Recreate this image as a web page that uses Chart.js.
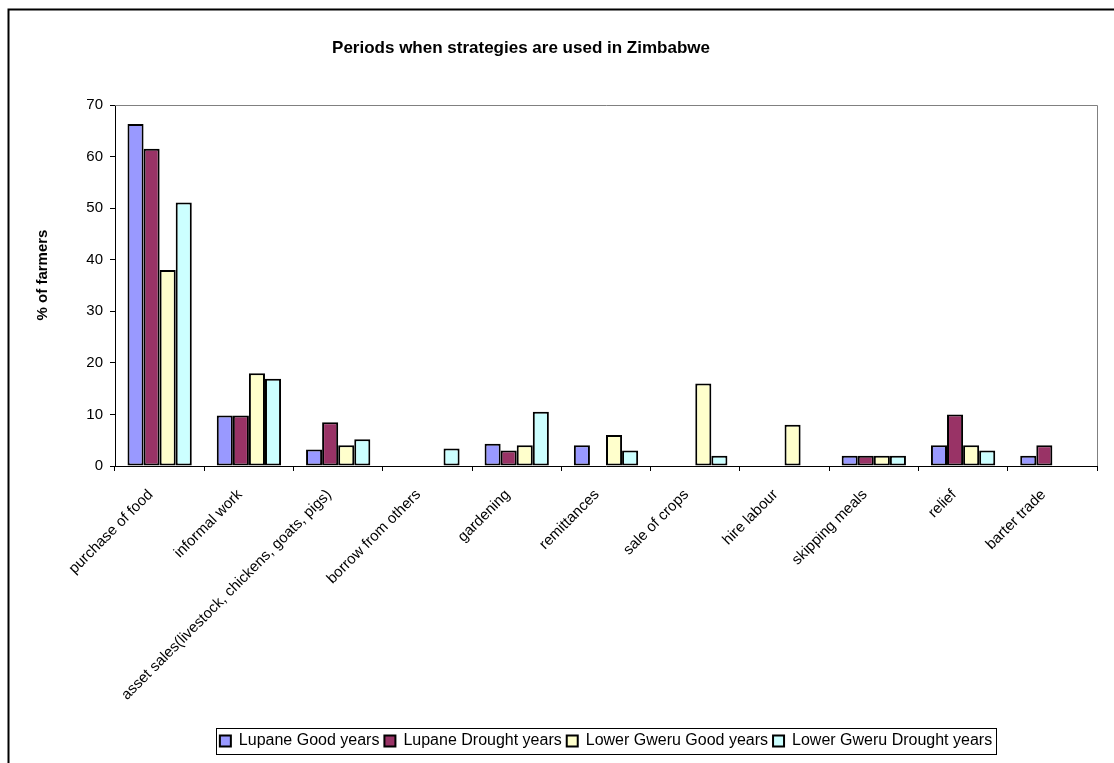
<!DOCTYPE html>
<html>
<head>
<meta charset="utf-8">
<title>Periods when strategies are used in Zimbabwe</title>
<script src="https://cdn.jsdelivr.net/npm/chart.js@4.4.1/dist/chart.umd.min.js"></script>
<style>
  html,body{margin:0;padding:0;background:#fff}
  #wrap{position:relative;width:1114px;height:763px}
</style>
</head>
<body>
<div id="wrap"><canvas id="chart"></canvas></div>
<script>
/* strategies and % of farmers using them, per district / season */
const categories=['purchase of food','informal work','asset sales(livestock, chickens, goats, pigs)',
  'borrow from others','gardening','remittances','sale of crops','hire labour','skipping meals','relief','barter trade'];
const lupaneGood      =[66.3, 9.8, 3.2, 0,  4.3, 4, 0,  0, 2, 4,  2];
const lupaneDrought   =[61.5, 9.8, 8.5, 0,  3.0, 0, 0,  0, 2, 10, 4];
const lowerGweruGood  =[38.0, 18,  4.0, 0,  4.0, 6, 16, 8, 2, 4,  0];
const lowerGweruDrought=[51.1,16.9, 5.2, 3.4,10.5, 3, 2,  0, 2, 3,  0];
const seriesNames=['Lupane Good years','Lupane Drought years','Lower Gweru Good years','Lower Gweru Drought years'];
const seriesColors=['#9999FF','#993366','#FFFFCC','#CCFFFF'];
const yTicks=[0,10,20,30,40,50,60,70];
const chartTitle='Periods when strategies are used in Zimbabwe';
const yTitle='% of farmers';

const FONT="'Liberation Sans', Arial, sans-serif";

/* frame, plot border, titles and legend box */
const decor={id:'decor',
  afterDraw(c){
    const ctx=c.ctx,a=c.chartArea;
    ctx.save();
    // outer chart border
    ctx.strokeStyle='#000';ctx.lineWidth=2;
    ctx.strokeRect(8.5,9.5,1120,770);
    // plot area border (top, right)
    ctx.strokeStyle='#808080';ctx.lineWidth=1;
    ctx.beginPath();
    ctx.moveTo(a.left,a.top+0.5);ctx.lineTo(a.right+0.5,a.top+0.5);ctx.lineTo(a.right+0.5,a.bottom);
    ctx.stroke();
    // chart title
    ctx.fillStyle='#000';ctx.font='bold 17px '+FONT;
    ctx.textAlign='center';ctx.textBaseline='alphabetic';
    ctx.fillText(chartTitle,521,53);
    // value axis title
    ctx.save();
    ctx.translate(43,275);ctx.rotate(-Math.PI/2);
    ctx.font='bold 15px '+FONT;ctx.textBaseline='middle';
    ctx.fillText(yTitle,0,0);
    ctx.restore();
    // box round the legend
    const hb=c.legend.legendHitBoxes;
    if(hb&&hb.length){
      let l=Infinity,r=-Infinity,t=Infinity,b=-Infinity;
      hb.forEach(h=>{l=Math.min(l,h.left);r=Math.max(r,h.left+h.width);t=Math.min(t,h.top);b=Math.max(b,h.top+h.height);});
      ctx.strokeStyle='#000';ctx.lineWidth=1;
      ctx.strokeRect(Math.round(l-4)+0.5,Math.round(t-5)+0.5,Math.round(r-l+8),Math.round(b-t+10));
    }
    ctx.restore();
  }};

const mk=(i,data)=>({label:seriesNames[i],data,backgroundColor:seriesColors[i],
  borderColor:'#000',borderWidth:2,borderSkipped:false,categoryPercentage:0.72,barPercentage:1});

new Chart(document.getElementById('chart'),{
  type:'bar',
  data:{labels:categories,datasets:[mk(0,lupaneGood),mk(1,lupaneDrought),mk(2,lowerGweruGood),mk(3,lowerGweruDrought)]},
  options:{
    responsive:true,maintainAspectRatio:false,animation:false,devicePixelRatio:1,
    layout:{padding:{left:9,top:105,right:17,bottom:4}},
    plugins:{
      title:{display:false},tooltip:{enabled:false},
      legend:{position:'bottom',fullSize:false,
        labels:{boxWidth:11,boxHeight:11,padding:5,color:'#000',font:{family:FONT,size:16}}}
    },
    scales:{
      x:{
        grid:{drawOnChartArea:false,drawTicks:true,tickLength:5,color:'#000',offset:true},
        border:{color:'#000',width:1},
        ticks:{autoSkip:false,minRotation:45,maxRotation:45,padding:15,labelOffset:-9,color:'#000',font:{family:FONT,size:15}},
        afterFit(s){s.height=262;}
      },
      y:{
        min:0,max:70,
        afterBuildTicks(s){s.ticks=yTicks.map(v=>({value:v}));},
        grid:{drawOnChartArea:false,drawTicks:true,tickLength:5,color:'#000'},
        border:{color:'#000',width:1},
        ticks:{padding:7,color:'#000',font:{family:FONT,size:15}},
        afterFit(s){s.width=106;}
      }
    }
  },
  plugins:[decor]
});
</script>
</body>
</html>
